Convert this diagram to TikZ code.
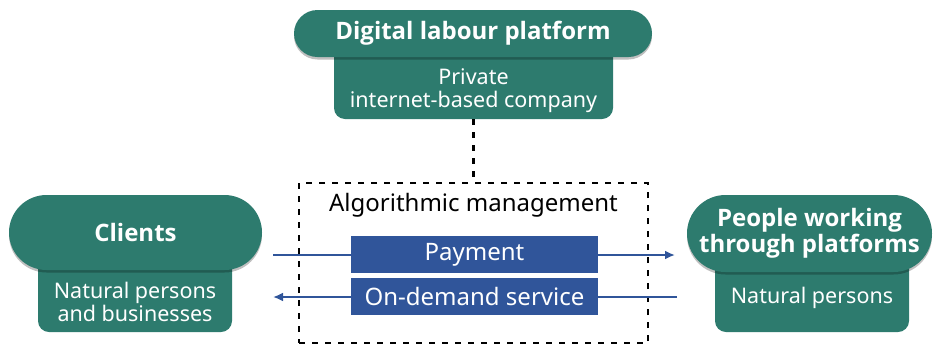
\documentclass[tikz,border=0pt]{standalone}
\usepackage{fontspec}
\setmainfont{Noto Sans}
\newfontfamily\titlefont{Open Sans}
\usetikzlibrary{shapes.misc,arrows.meta,shadows}
\definecolor{dgreen}{HTML}{2D7B6E}
\definecolor{dblue}{HTML}{30559A}
\tikzset{
  pill/.style={rounded rectangle, fill=dgreen, text=white, font=\titlefont\bfseries\fontsize{24}{26}\selectfont, align=center, inner sep=0pt,
    drop shadow={shadow xshift=0pt, shadow yshift=-2.5pt, opacity=0.25, fill=black}},
  subbox/.style={rectangle, rounded corners=11pt, fill=dgreen, inner sep=0pt},
  subtext/.style={text=white, font=\fontsize{21.5}{23}\selectfont, align=center, inner sep=0pt},
  bluebox/.style={rectangle, fill=dblue, text=white, font=\fontsize{24}{26}\selectfont, inner sep=0pt, minimum width=247pt, minimum height=37pt},
  algobox/.style={rectangle, draw=black, line width=2.2pt, dash pattern=on 6pt off 7pt, inner sep=0pt},
  flow/.style={draw=dblue, line width=2pt, -{Latex[length=10pt,width=9pt]}},
  dotline/.style={draw=black, line width=2.2pt, dash pattern=on 6pt off 7pt}
}
\begin{document}
\begin{tikzpicture}[x=1pt,y=-1pt]
\useasboundingbox (0,0) rectangle (934,346);
% dashed algorithmic management box
\node[algobox, minimum width=349pt, minimum height=160pt] (algo) at (473.5,263) {};
\node[font=\fontsize{24}{26}\selectfont, inner sep=0pt] (algot) at (473.5,205) {Algorithmic management};
% top platform
\node[subbox, minimum width=279pt, minimum height=86pt] (dlpsub) at (473.5,76) {};
\node[pill, minimum width=358pt, minimum height=47pt] (dlp) at (473,33.5) {Digital labour platform};
\node[subtext] (dlpt) at (473.5,91) {Private\\internet-based company};
\draw[dotline] (dlpsub.south) -- (algo.north);
% clients
\node[subbox, minimum width=194pt, minimum height=100pt] (clsub) at (135,282) {};
\node[pill, minimum width=253pt, minimum height=75pt] (cl) at (135.5,232.5) {Clients};
\node[subtext] (clt) at (135,301.5) {Natural persons\\and businesses};
% people
\node[subbox, minimum width=194pt, minimum height=99pt] (pesub) at (812,282.5) {};
\node[pill, minimum width=245pt, minimum height=77pt] (pe) at (809.5,233.5) {People working\\through platforms};
\node[subtext] (pet) at (812,298) {Natural persons};
% flows
\coordinate (payL) at (273,255);
\coordinate (payR) at (675,255);
\coordinate (odL) at (273,297);
\coordinate (odR) at (677,297);
\draw[flow] (payL) -- (payR);
\draw[flow] (odR) -- (odL);
\node[bluebox] (pay) at (474.5,254.5) {Payment};
\node[bluebox] (od) at (474.5,296.5) {On-demand service};
\end{tikzpicture}
\end{document}
